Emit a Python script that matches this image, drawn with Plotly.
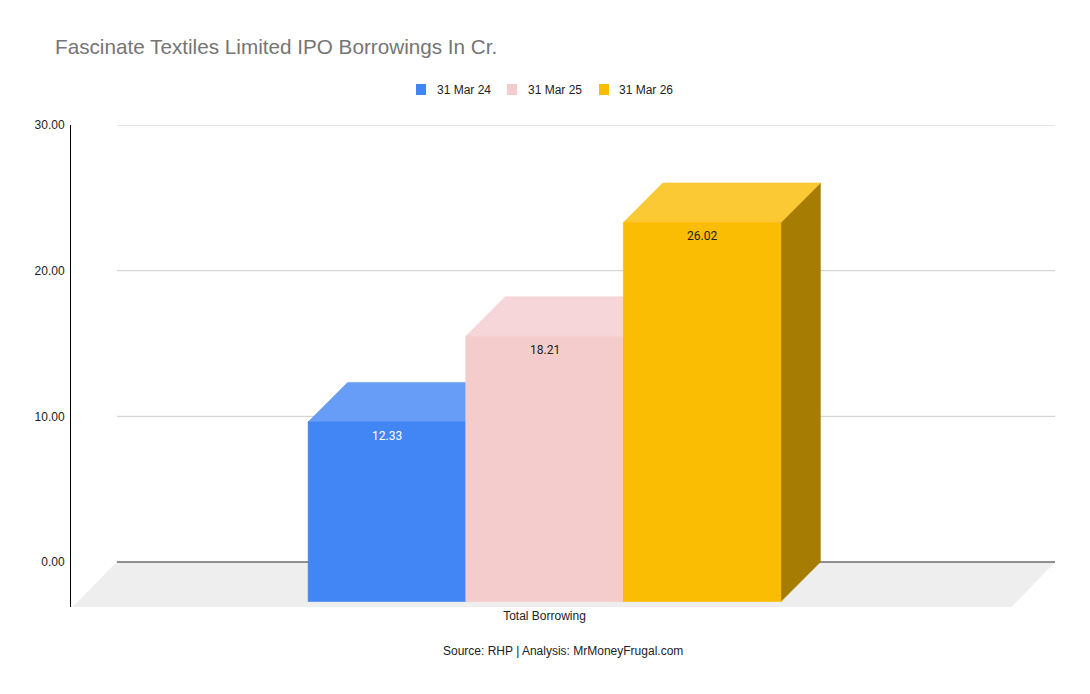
import plotly.graph_objects as go

# ---------------- data ----------------
categories = ["Total Borrowing"]
series_names = ["31 Mar 24", "31 Mar 25", "31 Mar 26"]
values = [12.33, 18.21, 26.02]
y_ticks = [0, 10, 20, 30]

# ---------------- styles ----------------
front_colors = ["#4285F4", "#F4CCCC", "#FBBC04"]
top_colors = ["#679DF6", "#F6D6D8", "#FBC934"]
side_colors = ["#2E5CAB", "#9E8E8E", "#A67C02"]
label_colors = ["#FFFFFF", "#222222", "#222222"]

# page body has an 8px margin, so the figure starts at (8, 8)
OFF = 8
W, H = 1090 - OFF, 694 - OFF
M_L, M_R, M_T, M_B = 71 - OFF, 35, 125 - OFF, 87
PX_PER_X = 939.0                       # pixels per category width on back plane
PX_PER_Y = (562 - 125) / 30.0          # pixels per value unit
Y_MIN = -(607 - 562) / PX_PER_Y        # bottom of plot (front edge of floor)
X_MIN = -0.5 - (117 - 71) / PX_PER_X
X_MAX = 0.5

DX = -39.5 / PX_PER_X                  # 3d depth offset of bar front faces
DY = -39.5 / PX_PER_Y
FLOOR_DX = -44 / PX_PER_X
GROUP_W = 0.504
GROUP_C = -2 / PX_PER_X
BAR_W = GROUP_W / len(values)

FONT = "Liberation Sans, Arial, sans-serif"


def paper_x(px):
    return (px - OFF - M_L) / (W - M_L - M_R)


def paper_y(py):
    return (H - M_B - (py - OFF)) / (H - M_T - M_B)


def poly(xs, ys, color):
    return go.Scatter(x=xs + [xs[0]], y=ys + [ys[0]], fill="toself", mode="lines",
                      line=dict(width=0.6, color=color), fillcolor=color,
                      hoverinfo="skip", showlegend=False)


fig = go.Figure()

# floor
fig.add_trace(poly([-0.5, 0.5, 0.5 + FLOOR_DX, -0.5 + FLOOR_DX],
                   [0, 0, Y_MIN, Y_MIN], "#EEEEEE"))

# gridlines on the back wall
for t in y_ticks:
    fig.add_trace(go.Scatter(x=[-0.5, 0.5], y=[t, t], mode="lines",
                             line=dict(color="#2A2A2A" if t == 0 else "#CCCCCC", width=1),
                             hoverinfo="skip", showlegend=False))

# 3d bars
for i, v in enumerate(values):
    l = GROUP_C - GROUP_W / 2 + i * BAR_W
    r = l + BAR_W
    fig.add_trace(poly([r + DX, r, r, r + DX], [DY, 0, v, v + DY], side_colors[i]))
    fig.add_trace(poly([l + DX, r + DX, r, l], [v + DY, v + DY, v, v], top_colors[i]))
    fig.add_trace(poly([l + DX, r + DX, r + DX, l + DX], [DY, DY, v + DY, v + DY], front_colors[i]))
    fig.add_annotation(x=(l + r) / 2 + DX, y=v + DY, text=f"{v:.2f}", showarrow=False,
                       yanchor="middle", yshift=-14,
                       font=dict(family="Roboto", size=12, color=label_colors[i]))

# legend
legend_sq = [421, 512, 604]
legend_tx = [435, 525.5, 617]
for i, name in enumerate(series_names):
    fig.add_shape(type="rect", xref="paper", yref="paper",
                  x0=paper_x(legend_sq[i] - 5), x1=paper_x(legend_sq[i] + 5),
                  y0=paper_y(95), y1=paper_y(84),
                  fillcolor=front_colors[i], line=dict(width=0))
    fig.add_annotation(xref="paper", yref="paper", x=paper_x(legend_tx[i]), y=paper_y(89.5),
                       text=name, showarrow=False, xanchor="left", yanchor="middle",
                       font=dict(family=FONT, size=12, color="#222222"))

# source note
fig.add_annotation(xref="paper", yref="paper", x=paper_x(563), y=paper_y(651),
                   text="Source: RHP | Analysis: MrMoneyFrugal.com", showarrow=False,
                   xanchor="center", yanchor="middle",
                   font=dict(family=FONT, size=12, color="#222222"))

fig.update_layout(
    width=W, height=H,
    margin=dict(l=M_L, r=M_R, t=M_T, b=M_B),
    paper_bgcolor="white", plot_bgcolor="white",
    showlegend=False,
    title=dict(text="Fascinate Textiles Limited IPO Borrowings In Cr.",
               xref="container", yref="container", x=(55 - OFF) / W, xanchor="left",
               y=1 - (47 - OFF) / H, yanchor="middle",
               font=dict(family=FONT, size=20.7, color="#757575")),
    xaxis=dict(range=[X_MIN, X_MAX], showgrid=False, zeroline=False, showline=False,
               tickvals=[GROUP_C + DX], ticktext=categories, ticks="",
               tickfont=dict(family=FONT, size=12, color="#222222"), fixedrange=True),
    yaxis=dict(range=[Y_MIN, 30], showgrid=False, zeroline=False, showline=True,
               linecolor="#000000", linewidth=1, tickvals=y_ticks, tickformat=".2f",
               ticks="", ticklabelstandoff=3,
               tickfont=dict(family=FONT, size=12, color="#222222"),
               fixedrange=True),
)

fig.write_html("out.html")
